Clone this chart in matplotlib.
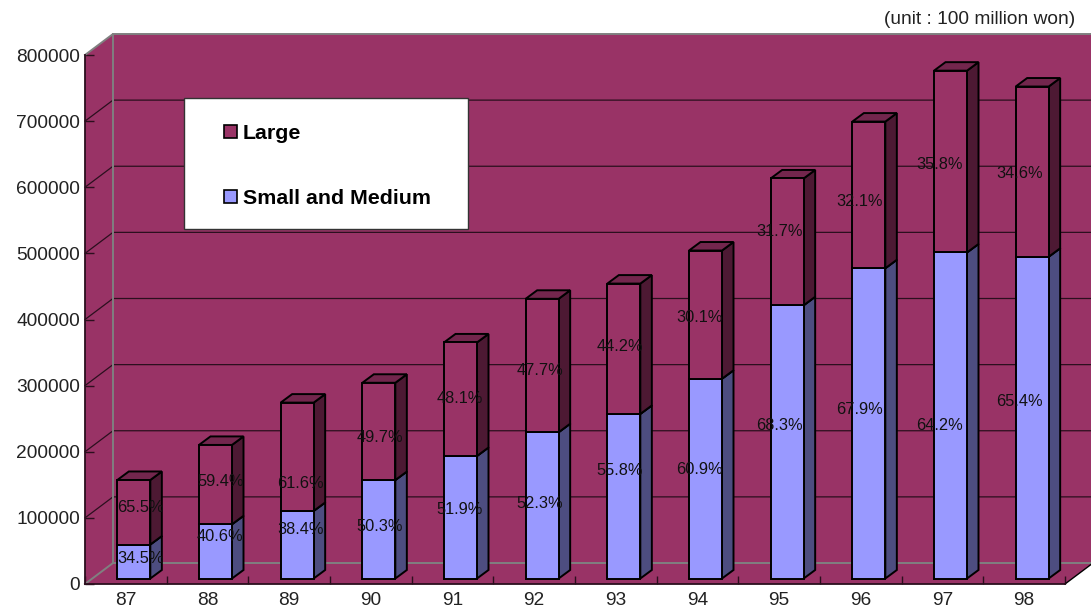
import matplotlib
matplotlib.use("Agg")
import matplotlib.pyplot as plt
from matplotlib.patches import Patch, Polygon, Rectangle

W, H = 1091, 613

years = ["87", "88", "89", "90", "91", "92", "93", "94", "95", "96", "97", "98"]
totals = [149000, 202000, 266000, 296000, 357000, 423000,
          446000, 496000, 605000, 691000, 768000, 744000]
small_share = [34.5, 40.6, 38.4, 50.3, 51.9, 52.3, 55.8, 60.9, 68.3, 67.9, 64.2, 65.4]
large_labels = [65.5, 59.4, 61.6, 49.7, 48.1, 47.7, 44.2, 30.1, 31.7, 32.1, 35.8, 34.6]
y_ticks = [0, 100000, 200000, 300000, 400000, 500000, 600000, 700000, 800000]

# vertical nudges for the percent labels, in pixels
small_nudge = [3, 15, 15, 3, 8, 2, 26, 9, 16, 14, -10, 16]
large_nudge = [5, 3, -27, -6, 1, -5, 2, -3, 10, -7, -3, -2]

WALL = "#993366"
LARGE = "#993366"
LARGE_SIDE = "#4d1933"
LARGE_TOP = "#73264d"
SMALL = "#9999ff"
SMALL_SIDE = "#4d4d80"
SMALL_TOP = "#7373bf"
GREY = "#808080"
DARK = "#2b0f1e"

FONT = "Liberation Sans"

fig = plt.figure(figsize=(W / 100, H / 100), dpi=100)
ax = fig.add_axes([85 / W, (H - 584) / H, 980 / W, 529 / H])
ax.set_xlim(0, 12)
ax.set_ylim(0, 800000)
ax.patch.set_visible(False)

# fake 3D: depth of the box and of each column, in data units
px_x = 12 / 980
px_y = 800000 / 529
box_dx, box_dy = 28 * px_x, 21 * px_y
bar_w = 33 * px_x
bar_dx, bar_dy = 11.5 * px_x, 8.5 * px_y
off_x, off_y = 8 * px_x, 5.5 * px_y


def add_poly(points, face, edge="none", lw=0, z=1):
    ax.add_patch(Polygon(points, closed=True, facecolor=face, edgecolor=edge,
                         linewidth=lw, zorder=z, clip_on=False, joinstyle="miter"))


top = 800000
add_poly([(box_dx, box_dy), (12 + box_dx, box_dy), (12 + box_dx, top + box_dy),
          (box_dx, top + box_dy)], WALL)
add_poly([(0, 0), (box_dx, box_dy), (box_dx, top + box_dy), (0, top)], WALL)
add_poly([(0, 0), (12, 0), (12 + box_dx, box_dy), (box_dx, box_dy)], WALL)

# gridlines across the side wall and back wall
for v in y_ticks[1:-1]:
    ax.plot([0, box_dx, 12 + box_dx], [v, v + box_dy, v + box_dy], color=DARK,
            lw=0.9, zorder=2, clip_on=False)

# grey box edges
ax.plot([box_dx, box_dx], [box_dy, top + box_dy], color=GREY, lw=1.4, zorder=3, clip_on=False)
ax.plot([0, box_dx, 12 + box_dx], [top, top + box_dy, top + box_dy], color=GREY, lw=1.4,
        zorder=3, clip_on=False)
ax.plot([0, box_dx, 12 + box_dx], [0, box_dy, box_dy], color=GREY, lw=1.4, zorder=3,
        clip_on=False)
ax.plot([12, 12 + box_dx], [0, box_dy], color="black", lw=1.0, zorder=3, clip_on=False)


def add_segment(x0, y0, y1, front, side, cap, z):
    x1 = x0 + bar_w
    add_poly([(x1, y0), (x1 + bar_dx, y0 + bar_dy), (x1 + bar_dx, y1 + bar_dy), (x1, y1)],
             side, "black", 1.4, z)
    add_poly([(x0, y1), (x1, y1), (x1 + bar_dx, y1 + bar_dy), (x0 + bar_dx, y1 + bar_dy)],
             cap, "black", 1.4, z)
    add_poly([(x0, y0), (x1, y0), (x1, y1), (x0, y1)], front, "black", 1.4, z)


def add_label(i, x, y, value, nudge):
    shift = 6.5 - 1.77 * i
    ax.annotate(f"{value:.1f}%", (x, y), xytext=(shift, nudge), textcoords="offset pixels",
                ha="center", va="center", fontsize=11.8, family=FONT, color="#111111",
                zorder=10, annotation_clip=False)


for i, total in enumerate(totals):
    x0 = i + 0.5 - bar_w / 2 + off_x
    small = total * small_share[i] / 100
    add_segment(x0, off_y, off_y + small, SMALL, SMALL_SIDE, SMALL_TOP, 5)
    add_segment(x0, off_y + small, off_y + total, LARGE, LARGE_SIDE, LARGE_TOP, 6)
    xc = x0 + bar_w / 2
    add_label(i, xc, off_y + small / 2, small_share[i], small_nudge[i])
    add_label(i, xc, off_y + small + (total - small) / 2, large_labels[i], large_nudge[i])

# axes and ticks
for side in ("top", "right"):
    ax.spines[side].set_visible(False)
for side in ("left", "bottom"):
    ax.spines[side].set_color(DARK)
    ax.spines[side].set_linewidth(1.3)
    ax.spines[side].set_zorder(4)

ax.set_yticks(y_ticks)
ax.set_yticklabels([str(v) for v in y_ticks], family=FONT, fontsize=13.8, color="#222222")
ax.set_xticks(range(13))
ax.set_xticklabels([])
ax.set_xticks([i + 0.5 for i in range(12)], minor=True)
ax.set_xticklabels(years, minor=True, family=FONT, fontsize=13.8, color="#222222")
ax.tick_params(axis="y", direction="in", length=6.5, width=1.0, color=DARK, pad=3.5)
ax.tick_params(axis="x", which="major", direction="in", length=6, width=1.0, color=DARK)
ax.tick_params(axis="x", which="minor", length=0, pad=6)

# legend box
ax.add_patch(Rectangle((184 / W, (H - 229) / H), 284 / W, 131 / H, transform=fig.transFigure,
                       facecolor="white", edgecolor="#333333", linewidth=1.0, zorder=20))
handles = [Patch(facecolor=LARGE, edgecolor="black", linewidth=1.2, label="Large"),
           Patch(facecolor=SMALL, edgecolor="black", linewidth=1.2, label="Small and Medium")]
legend = fig.legend(handles=handles, frameon=False, loc="upper left",
                    bbox_to_anchor=(224 / W, (H - 124) / H), borderpad=0, borderaxespad=0,
                    handlelength=0.6, handleheight=0.6, handletextpad=0.28, labelspacing=2.15,
                    prop={"family": FONT, "weight": "bold", "size": 15.4})
legend.set_zorder(21)
ax.set_zorder(1)

fig.text(1075 / W, (H - 19) / H, "(unit : 100 million won)", ha="right", va="center",
         family=FONT, fontsize=13.8, color="#222222")

fig.savefig("out.png", dpi=100)
